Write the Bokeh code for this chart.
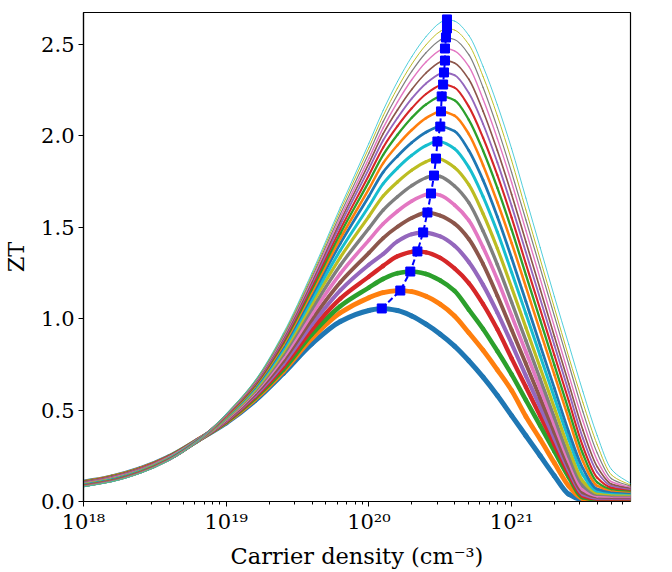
from bokeh.plotting import figure
from bokeh.models import Range1d, FixedTicker, NumeralTickFormatter, CustomJSTickFormatter
from bokeh.embed import file_html
from bokeh.resources import INLINE

# log10 of carrier density (cm^-3) at which each curve was read
carrier_log10 = [18.0, 18.2, 18.4, 18.6, 18.8, 19.0, 19.2, 19.4, 19.6, 19.8, 20.0,
                 20.1, 20.2, 20.3, 20.4, 20.5, 20.6, 20.7, 20.8, 20.9, 21.0,
                 21.1, 21.2, 21.3, 21.4, 21.5, 21.6, 21.7, 21.84]

zt_00 = [.105, .135, .180, .245, .335, .430, .550, .700, .862, .985, 1.045, 1.056, 1.045, 1.015, .970, .915, .850, .770, .680, .580, .470, .360, .250, .140, .040, .008, .003, .003, .003]
zt_01 = [.103, .133, .178, .243, .335, .434, .559, .712, .892, 1.032, 1.115, 1.143, 1.153, 1.148, 1.123, 1.079, 1.015, .923, .827, .720, .607, .465, .340, .210, .085, .015, .007, .007, .007]
zt_02 = [.101, .131, .176, .242, .334, .437, .566, .722, .915, 1.069, 1.170, 1.218, 1.249, 1.258, 1.245, 1.209, 1.152, 1.050, .944, .823, .695, .554, .415, .274, .134, .023, .012, .012, .012]
zt_03 = [.100, .129, .175, .241, .334, .440, .573, .738, .941, 1.110, 1.230, 1.289, 1.341, 1.366, 1.363, 1.333, 1.275, 1.195, 1.080, .942, .783, .626, .469, .312, .155, .031, .016, .016, .016]
zt_04 = [.098, .128, .173, .239, .334, .444, .580, .754, .968, 1.155, 1.295, 1.354, 1.423, 1.462, 1.471, 1.450, 1.399, 1.310, 1.185, 1.033, .864, .687, .518, .345, .173, .040, .021, .021, .021]
zt_05 = [.096, .126, .171, .238, .333, .447, .588, .770, .996, 1.199, 1.360, 1.441, 1.503, 1.551, 1.580, 1.564, 1.520, 1.436, 1.299, 1.126, .940, .753, .566, .378, .191, .050, .027, .026, .026]
zt_06 = [.094, .124, .169, .237, .333, .451, .597, .788, 1.025, 1.247, 1.430, 1.519, 1.588, 1.643, 1.679, 1.675, 1.622, 1.538, 1.390, 1.214, 1.017, .818, .619, .420, .221, .065, .032, .030, .030]
zt_07 = [.093, .122, .168, .235, .333, .455, .604, .804, 1.053, 1.292, 1.495, 1.594, 1.667, 1.728, 1.771, 1.778, 1.726, 1.635, 1.480, 1.296, 1.090, .880, .670, .458, .248, .085, .039, .036, .035]
zt_08 = [.091, .120, .166, .234, .332, .458, .612, .820, 1.080, 1.336, 1.560, 1.671, 1.748, 1.812, 1.859, 1.873, 1.827, 1.733, 1.574, 1.384, 1.171, .951, .732, .511, .292, .110, .047, .042, .040]
zt_09 = [.089, .118, .164, .233, .332, .461, .619, .834, 1.104, 1.374, 1.615, 1.739, 1.824, 1.894, 1.947, 1.968, 1.930, 1.828, 1.668, 1.474, 1.254, 1.027, .797, .568, .341, .145, .057, .048, .045]
zt_10 = [.088, .117, .163, .231, .332, .464, .625, .848, 1.127, 1.412, 1.670, 1.802, 1.889, 1.963, 2.020, 2.051, 2.026, 1.920, 1.758, 1.558, 1.332, 1.094, .855, .619, .382, .180, .068, .054, .049]
zt_11 = [.087, .115, .162, .230, .331, .466, .630, .857, 1.144, 1.439, 1.710, 1.851, 1.949, 2.032, 2.097, 2.134, 2.111, 2.010, 1.840, 1.637, 1.414, 1.174, .932, .693, .452, .220, .085, .061, .054]
zt_12 = [.086, .114, .161, .230, .331, .469, .635, .868, 1.161, 1.466, 1.750, 1.896, 2.006, 2.099, 2.172, 2.215, 2.195, 2.088, 1.919, 1.716, 1.487, 1.240, .994, .746, .500, .260, .105, .068, .058]
zt_13 = [.085, .113, .160, .229, .331, .470, .639, .876, 1.176, 1.490, 1.785, 1.937, 2.053, 2.151, 2.229, 2.277, 2.264, 2.160, 1.990, 1.785, 1.553, 1.300, 1.052, .800, .551, .300, .130, .076, .063]
zt_14 = [.084, .112, .159, .228, .331, .472, .643, .885, 1.191, 1.514, 1.820, 1.976, 2.098, 2.204, 2.287, 2.341, 2.332, 2.235, 2.065, 1.855, 1.617, 1.363, 1.109, .855, .601, .345, .160, .085, .068]
zt_15 = [.083, .111, .158, .227, .331, .474, .647, .892, 1.203, 1.534, 1.850, 2.012, 2.142, 2.254, 2.344, 2.404, 2.399, 2.310, 2.135, 1.920, 1.680, 1.421, 1.163, .903, .645, .390, .190, .095, .072]
zt_16 = [.082, .110, .157, .227, .330, .475, .650, .899, 1.215, 1.553, 1.877, 2.044, 2.185, 2.307, 2.404, 2.469, 2.465, 2.380, 2.200, 1.985, 1.745, 1.482, 1.219, .955, .694, .440, .225, .108, .077]
zt_17 = [.081, .110, .156, .226, .330, .477, .654, .906, 1.227, 1.573, 1.906, 2.078, 2.225, 2.353, 2.455, 2.525, 2.527, 2.445, 2.265, 2.045, 1.800, 1.540, 1.278, 1.014, .752, .490, .265, .125, .082]
zt_18 = [.081, .109, .156, .226, .330, .479, .657, .914, 1.239, 1.593, 1.935, 2.110, 2.261, 2.392, 2.498, 2.572, 2.579, 2.500, 2.325, 2.110, 1.865, 1.595, 1.326, 1.059, .792, .540, .310, .145, .087]
zt_19 = [.080, .108, .155, .225, .330, .480, .660, .920, 1.250, 1.610, 1.960, 2.140, 2.297, 2.433, 2.543, 2.620, 2.628, 2.550, 2.380, 2.170, 1.930, 1.660, 1.390, 1.120, .860, .600, .360, .175, .095]

# maxima of each curve (blue squares)
peak_log10 = [20.09, 20.22, 20.29, 20.34, 20.38, 20.41, 20.435, 20.456, 20.47, 20.48,
              20.50, 20.505, 20.51, 20.52, 20.526, 20.533, 20.533, 20.54, 20.547, 20.547]
peak_zt = [1.056, 1.154, 1.258, 1.368, 1.472, 1.581, 1.685, 1.783, 1.876, 1.969,
           2.051, 2.134, 2.216, 2.281, 2.347, 2.412, 2.478, 2.538, 2.588, 2.637]

y_ticks = [0.0, 0.5, 1.0, 1.5, 2.0, 2.5]
x_decades = [18, 19, 20, 21]

curves = [zt_00, zt_01, zt_02, zt_03, zt_04, zt_05, zt_06, zt_07, zt_08, zt_09,
          zt_10, zt_11, zt_12, zt_13, zt_14, zt_15, zt_16, zt_17, zt_18, zt_19]
tab10 = ["#1f77b4", "#ff7f0e", "#2ca02c", "#d62728", "#9467bd",
         "#8c564b", "#e377c2", "#7f7f7f", "#bcbd22", "#17becf"]

FONT = "DejaVu Serif"
X_END = 10 ** 21.833


def smooth_segments(xs, ys):
    """Cubic Bezier pieces (monotone Hermite tangents) passing through every read point."""
    n = len(xs)
    h = [xs[k + 1] - xs[k] for k in range(n - 1)]
    d = [(ys[k + 1] - ys[k]) / h[k] for k in range(n - 1)]
    m = [0.0] * n
    m[0], m[-1] = d[0], d[-1]
    for k in range(1, n - 1):
        if d[k - 1] * d[k] <= 0:
            m[k] = 0.0
        else:
            w1 = 2 * h[k] + h[k - 1]
            w2 = h[k] + 2 * h[k - 1]
            m[k] = (w1 + w2) / (w1 / d[k - 1] + w2 / d[k])
    seg = dict(x0=[], y0=[], x1=[], y1=[], cx0=[], cy0=[], cx1=[], cy1=[])
    for k in range(n - 1):
        seg["x0"].append(10 ** xs[k]); seg["y0"].append(ys[k])
        seg["x1"].append(10 ** xs[k + 1]); seg["y1"].append(ys[k + 1])
        seg["cx0"].append(10 ** (xs[k] + h[k] / 3)); seg["cy0"].append(ys[k] + m[k] * h[k] / 3)
        seg["cx1"].append(10 ** (xs[k + 1] - h[k] / 3)); seg["cy1"].append(ys[k + 1] - m[k + 1] * h[k] / 3)
    return seg


p = figure(width=672, height=572, x_axis_type="log", output_backend="svg",
           toolbar_location=None,
           x_range=Range1d(1e18, X_END), y_range=Range1d(0, 2.675),
           min_border_left=83, min_border_right=42, min_border_top=12,
           min_border_bottom=71)
p.xgrid.visible = False
p.ygrid.visible = False
p.outline_line_color = "black"
p.outline_line_width = 1.2
p.background_fill_color = "white"
p.border_fill_color = "white"

n = len(curves)
for i, ys in enumerate(curves):
    pts = [(a, b) for a, b in zip(carrier_log10, ys) if abs(a - peak_log10[i]) >= 0.015]
    pts.append((peak_log10[i], peak_zt[i]))
    pts.sort()
    seg = smooth_segments([a for a, _ in pts], [b for _, b in pts])
    w = 5.0 - (5.0 - 0.75) * i / (n - 1)
    p.bezier(line_color=tab10[i % 10], line_width=w, line_cap="round", **seg)

px = [10 ** a for a in peak_log10]
p.line(px, peak_zt, line_color="#0000ff", line_width=2, line_dash="6 3")
p.scatter(px, peak_zt, marker="square", size=9, fill_color="#0000ff",
          line_color="#0000ff")

major_x = [10.0 ** d for d in x_decades]
minor_x = [k * 10.0 ** d for d in x_decades for k in range(2, 10) if k * 10.0 ** d < X_END]
p.xaxis.ticker = FixedTicker(ticks=major_x, minor_ticks=minor_x)
p.xaxis.formatter = CustomJSTickFormatter(code="""
const e = Math.round(Math.log10(tick));
const sup = {"0":"\u2070","1":"\u00b9","2":"\u00b2","3":"\u00b3","4":"\u2074",
             "5":"\u2075","6":"\u2076","7":"\u2077","8":"\u2078","9":"\u2079","-":"\u207b"};
return "10" + String(e).split("").map(c => sup[c]).join("");
""")
p.yaxis.ticker = FixedTicker(ticks=y_ticks)
p.yaxis.formatter = NumeralTickFormatter(format="0.0")

p.xaxis.axis_label = "Carrier density (cm\u207b\u00b3)"
p.yaxis.axis_label = "ZT"

for ax in (p.xaxis[0], p.yaxis[0]):
    ax.axis_line_color = "black"
    ax.axis_line_width = 1.2
    ax.major_tick_line_color = "black"
    ax.major_tick_out = 5
    ax.major_tick_in = 0
    ax.major_label_text_font = FONT
    ax.major_label_text_font_size = "21px"
    ax.major_label_text_color = "black"
    ax.axis_label_text_font = FONT
    ax.axis_label_text_font_size = "22.5px"
    ax.axis_label_text_font_style = "normal"
    ax.axis_label_text_color = "black"

p.xaxis.minor_tick_line_color = "black"
p.xaxis.minor_tick_out = 3
p.xaxis.minor_tick_in = 0
p.yaxis.minor_tick_line_color = None
p.xaxis.major_label_standoff = 3
p.yaxis.major_label_standoff = 4
p.xaxis.axis_label_standoff = 6
p.yaxis.axis_label_standoff = 9

open("out.html", "w").write(file_html(p, INLINE))
